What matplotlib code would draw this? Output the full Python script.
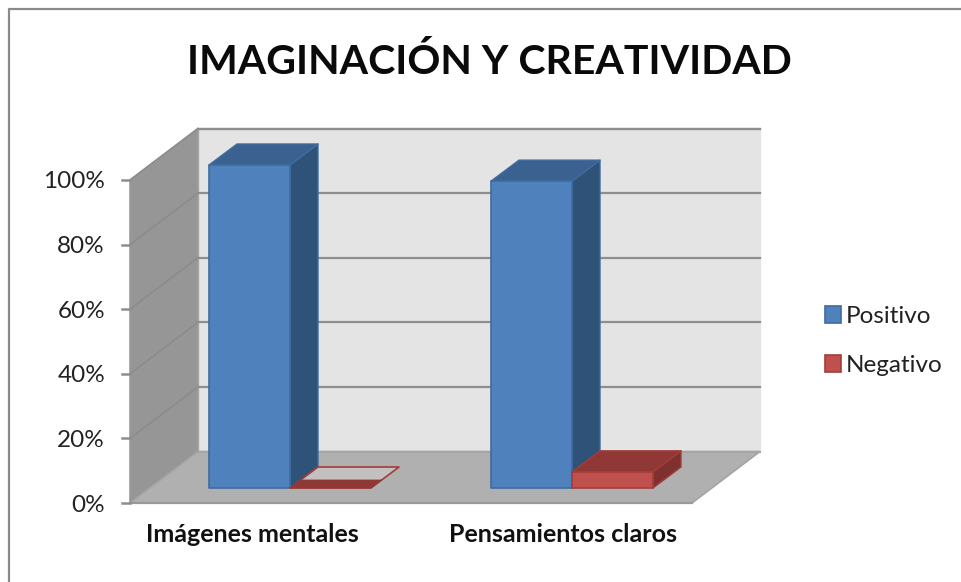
import matplotlib
matplotlib.use("Agg")
import matplotlib.pyplot as plt
from matplotlib.patches import Polygon, Rectangle

title = "IMAGINACIÓN Y CREATIVIDAD"
categories = ["Imágenes mentales", "Pensamientos claros"]
series_names = ["Positivo", "Negativo"]
positivo = [100, 95]
negativo = [0, 5]
y_ticks = [0, 20, 40, 60, 80, 100]
y_labels = ["0%", "20%", "40%", "60%", "80%", "100%"]

W, H = 962, 582
PX_X = 282.0      # pixels per category
PX_Y = 3.23       # pixels per percent
X0 = 290.0        # pixel of category 0 boundary between its two bars
Y0 = 503.0        # pixel of 0 % on the front plane

BAR_W = 81 / PX_X
BAR_DX = 28 / PX_X
BAR_DY = 21 / PX_Y
BAR_LIFT = 15 / PX_Y
BOX_L = (130 - X0) / PX_X
BOX_R = (692 - X0) / PX_X
BOX_DX = 68 / PX_X
BOX_DY = 51.5 / PX_Y
TOP = 100

BLUE = ("#4f81bd", "#3a6190", "#2f5279", "#3f6b9f")
RED = ("#c0504d", "#8f3835", "#7f312f", "#a33d3a")

fig = plt.figure(figsize=(W / 100, H / 100), dpi=100, facecolor="white")
ax = fig.add_axes([0, 0, 1, 1])
ax.set_xlim(-X0 / PX_X, (W - X0) / PX_X)
ax.set_ylim((Y0 - H) / PX_Y, Y0 / PX_Y)
ax.axis("off")
plt.rcParams["font.family"] = ["Lato", "DejaVu Sans"]


def poly(pts, face, edge=None, lw=1.0, z=2, **kw):
    ax.add_patch(Polygon(pts, closed=True, facecolor=face,
                         edgecolor=edge if edge else face, linewidth=lw,
                         zorder=z, joinstyle="round", **kw))


# figure frame
ax.add_line(plt.Line2D([8.5 / W, 8.5 / W, 1], [0, 1 - 9 / H, 1 - 9 / H],
                       transform=ax.transAxes, color="#8a8a8a", lw=1.6, zorder=1))

# box: floor, left wall, back wall
GR = "#8e8e8e"
EDGE = "#999999"
poly([(BOX_L + BOX_DX, BOX_DY), (BOX_R + BOX_DX, BOX_DY),
      (BOX_R + BOX_DX, TOP + BOX_DY), (BOX_L + BOX_DX, TOP + BOX_DY)], "#e4e4e4", "#e4e4e4", z=1.5)
ax.plot([BOX_L + BOX_DX, BOX_R + BOX_DX], [TOP + BOX_DY] * 2, color=EDGE, lw=1.6, zorder=1.7)
poly([(BOX_L, 0), (BOX_L + BOX_DX, BOX_DY), (BOX_L + BOX_DX, TOP + BOX_DY), (BOX_L, TOP)],
     "#969696", "#999999", lw=1.2, z=1.6)
poly([(BOX_L, 0), (BOX_R, 0), (BOX_R + BOX_DX, BOX_DY), (BOX_L + BOX_DX, BOX_DY)],
     "#b0b0b0", "#a4a4a4", lw=1.2, z=1.6)
ax.plot([BOX_L, BOX_R], [0, 0], color=EDGE, lw=1.6, zorder=1.7)
ax.plot([BOX_L + BOX_DX, BOX_R + BOX_DX], [BOX_DY, BOX_DY], color="#a6a6a6", lw=1.4, zorder=1.7)
ax.plot([BOX_L + BOX_DX] * 2, [BOX_DY, TOP + BOX_DY], color="#a6a6a6", lw=1.0, zorder=1.7)

# gridlines and ticks
TICK = 8 / PX_X
LABEL_SHIFT = 2 / PX_Y
for v, lab in zip(y_ticks, y_labels):
    if v > 0:
        ax.plot([BOX_L, BOX_L + BOX_DX], [v, v + BOX_DY], color="#8a8a8a", lw=1.0, zorder=1.8)
        ax.plot([BOX_L + BOX_DX, BOX_R + BOX_DX], [v + BOX_DY, v + BOX_DY],
                color=GR, lw=1.6, zorder=1.8)
    ax.plot([BOX_L - TICK, BOX_L], [v, v], color=GR, lw=1.8, zorder=1.8)
    ax.text((105 - X0) / PX_X, v - LABEL_SHIFT, lab, ha="right", va="center",
            fontsize=17.5, color="#222222")


def bar3d(x, value, cols, z):
    front, top, side, edge = cols
    xl, xr = x, x + BAR_W
    b, t = BAR_LIFT, BAR_LIFT + value
    poly([(xr, b), (xr + BAR_DX, b + BAR_DY), (xr + BAR_DX, t + BAR_DY), (xr, t)], side, edge, z=z)
    poly([(xl, t), (xr, t), (xr + BAR_DX, t + BAR_DY), (xl + BAR_DX, t + BAR_DY)], top, edge, z=z + .1)
    poly([(xl, b), (xr, b), (xr, t), (xl, t)], front, edge, lw=1.2, z=z + .2)


def empty_bar(x, cols, z):
    xl, xr = x, x + BAR_W
    b = BAR_LIFT
    poly([(xl, b), (xr, b), (xr + BAR_DX, b + BAR_DY), (xl + BAR_DX, b + BAR_DY)],
         "#c4c0c0", "#a33d3a", lw=1.2, z=z)
    f = 0.38
    poly([(xl, b), (xr, b), (xr + f * BAR_DX, b + f * BAR_DY), (xl + f * BAR_DX, b + f * BAR_DY)],
         cols[1], cols[1], lw=0.6, z=z + .1)


LABEL_X0 = (252 - X0) / PX_X
LABEL_STEP = 311 / PX_X
for i, (p, n) in enumerate(zip(positivo, negativo)):
    bar3d(i - BAR_W, p, BLUE, 3 + i)
    if n > 0:
        bar3d(i, n, RED, 3.5 + i)
    else:
        empty_bar(i, RED, 3.5 + i)
    ax.text(LABEL_X0 + i * LABEL_STEP, (Y0 - 534) / PX_Y, categories[i], ha="center", va="center",
            fontsize=18, fontweight="bold", color="#111111")

ax.text((489 - X0) / PX_X, (Y0 - 62) / PX_Y, title, ha="center", va="center",
        fontsize=29.5, fontweight="bold", color="#0a0a0a")

handles = [Rectangle((0, 0), 1, 1, facecolor=BLUE[0], edgecolor=BLUE[3], lw=1.2),
           Rectangle((0, 0), 1, 1, facecolor=RED[0], edgecolor=RED[3], lw=1.2)]
ax.legend(handles, series_names, loc="center left", bbox_to_anchor=(825 / W, 1 - 341 / H),
          frameon=False, fontsize=17.5, handlelength=0.66, handleheight=0.66,
          handletextpad=0.2, labelspacing=1.15, borderpad=0, borderaxespad=0,
          labelcolor="#222222")

fig.savefig("out.png", dpi=100)
